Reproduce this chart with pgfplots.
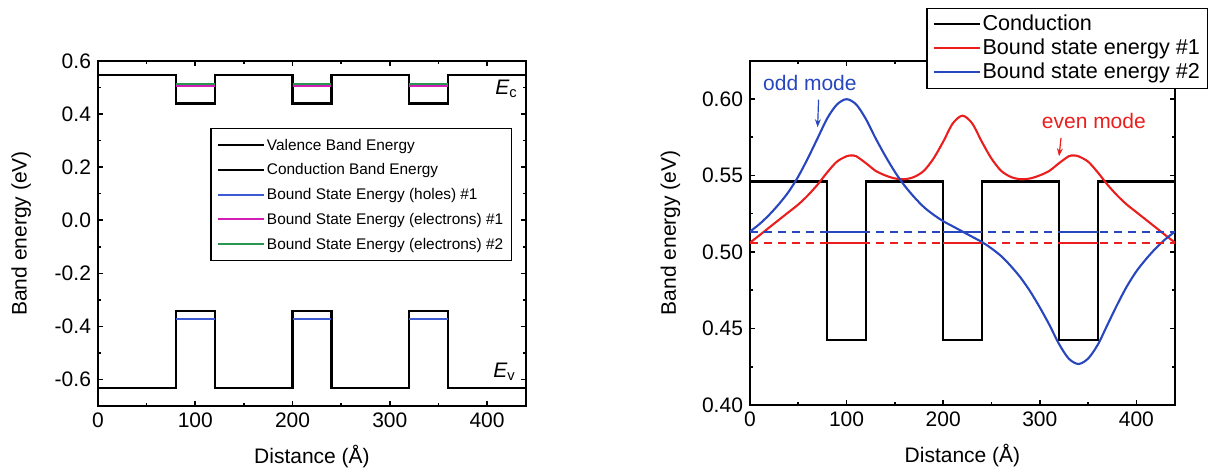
\documentclass[border=0pt]{standalone}
\usepackage{fontspec}
\setmainfont{Liberation Sans}
\usepackage{pgfplots}
\pgfplotsset{compat=1.18}
\usetikzlibrary{arrows.meta}
\definecolor{cblue}{RGB}{40,70,190}
\definecolor{cred}{RGB}{235,30,30}
\definecolor{lblue}{RGB}{60,90,210}
\definecolor{lmag}{RGB}{210,30,180}
\definecolor{lgreen}{RGB}{40,150,80}
\pgfplotsset{
  mystyle/.style={
    scale only axis,
    axis line style={line width=1pt},
    every tick/.style={line width=0.8pt, black},
    major tick length=2.5pt, minor tick length=1.5pt,
    tick align=inside,
    xmin=0, xmax=440,
    xtick={0,100,...,400}, minor x tick num=1,
    tick label style={font=\fontsize{10.5}{12}\selectfont},
    label style={font=\fontsize{10.5}{12}\selectfont},
    /pgf/number format/assume math mode=true,
    xlabel={Distance (Å)},
    ylabel={Band energy (eV)},
    xlabel shift=2pt,
    unbounded coords=jump,
    every axis plot/.append style={line width=1.05pt},
    legend cell align=left,
    legend image code/.code={\draw[##1, line width=1pt] (0pt,0pt) -- (23pt,0pt);},
  }
}
\begin{document}
\begin{tikzpicture}
\path[use as bounding box] (0,0) rectangle (606pt,238pt);
% ---------------- left axis
\begin{axis}[mystyle,
  at={(49pt,35pt)}, anchor=south west,
  width=214pt, height=172.5pt,
  ymin=-0.7, ymax=0.6,
  ylabel shift=5pt,
  ytick={-0.6,-0.4,...,0.6}, minor y tick num=1,
  yticklabel style={/pgf/number format/.cd, fixed, fixed zerofill, precision=1},
  legend style={at={(0.967,0.806)}, anchor=north east, draw=black, line width=0.6pt,
    font=\fontsize{7.7}{9.6}\selectfont, row sep=0pt,
    nodes={inner sep=1pt, text height=7.8pt, text depth=2.6pt}},
]
\addplot[black] coordinates {(0,-0.632) (80,-0.632) (80,-0.343) (120,-0.343) (120,-0.632) (200,-0.632) (200,-0.343) (240,-0.343) (240,-0.632) (320,-0.632) (320,-0.343) (360,-0.343) (360,-0.632) (440,-0.632)};
\addlegendentry{Valence Band Energy}
\addplot[black] coordinates {(0,0.546) (80,0.546) (80,0.44) (120,0.44) (120,0.546) (200,0.546) (200,0.44) (240,0.44) (240,0.546) (320,0.546) (320,0.44) (360,0.44) (360,0.546) (440,0.546)};
\addlegendentry{Conduction Band Energy}
\addplot[lblue] coordinates {(80,-0.372) (120,-0.372) (120,nan) (200,-0.372) (240,-0.372) (240,nan) (320,-0.372) (360,-0.372)};
\addlegendentry{Bound State Energy (holes) \#1}
\addplot[lmag] coordinates {(80,0.505) (120,0.505) (120,nan) (200,0.505) (240,0.505) (240,nan) (320,0.505) (360,0.505)};
\addlegendentry{Bound State Energy (electrons) \#1}
\addplot[lgreen] coordinates {(80,0.514) (120,0.514) (120,nan) (200,0.514) (240,0.514) (240,nan) (320,0.514) (360,0.514)};
\addlegendentry{Bound State Energy (electrons) \#2}
\node[font=\fontsize{10.5}{12}\selectfont, anchor=center] at (axis cs:420,0.495) {\itshape E\textsubscript{\upshape c}};
\node[font=\fontsize{10.5}{12}\selectfont, anchor=center] at (axis cs:418,-0.57) {\itshape E\textsubscript{\upshape v}};
\end{axis}
% ---------------- right axis
\begin{axis}[mystyle,
  at={(375pt,35.5pt)}, anchor=south west,
  width=212.5pt, height=172.2pt,
  ymin=0.40, ymax=0.625,
  ylabel shift=4pt,
  ytick={0.40,0.45,...,0.60}, minor y tick num=1,
  yticklabel style={/pgf/number format/.cd, fixed, fixed zerofill, precision=2},
  legend style={at={(1.078,1.153)}, anchor=north east, draw=black, line width=0.6pt,
    font=\fontsize{10.8}{12.6}\selectfont, row sep=0pt,
    nodes={inner sep=0.8pt, text height=8pt, text depth=2.4pt}},
]
\addplot[black] coordinates {(0,0.546) (80,0.546) (80,0.4425) (120,0.4425) (120,0.546) (200,0.546) (200,0.4425) (240,0.4425) (240,0.546) (320,0.546) (320,0.4425) (360,0.4425) (360,0.546) (440,0.546)};
\addlegendentry{Conduction}
\addplot[cred, smooth] coordinates {
(0,0.506) (10,0.511) (20,0.516) (30,0.521) (40,0.526) (50,0.531) (60,0.537) (70,0.544)
(80,0.552) (90,0.559) (100,0.5625) (105,0.563) (110,0.5625) (120,0.558) (130,0.553)
(140,0.550) (150,0.548) (160,0.5475) (170,0.549) (180,0.553) (190,0.561) (200,0.572)
(210,0.584) (220,0.589) (230,0.584) (240,0.572) (250,0.561) (260,0.553) (270,0.549)
(280,0.5475) (290,0.548) (300,0.550) (310,0.553) (320,0.558) (330,0.5625) (335,0.563)
(340,0.5625) (350,0.559) (360,0.552) (370,0.544) (380,0.537) (390,0.531) (400,0.526)
(410,0.521) (420,0.516) (430,0.511) (440,0.506)};
\addlegendentry{Bound state energy \#1}
\addplot[cblue, smooth] coordinates {
(0,0.5133) (10,0.5183) (20,0.5243) (30,0.5313) (40,0.5393) (50,0.5493) (60,0.5613)
(70,0.5743) (80,0.5873) (90,0.5963) (100,0.5998) (110,0.5963) (120,0.5868) (130,0.5743)
(140,0.5628) (150,0.5523) (160,0.5433) (170,0.5358) (180,0.5293) (190,0.5243)
(200,0.5201) (210,0.5167) (220,0.5133) (230,0.5099) (240,0.5065) (250,0.5023)
(260,0.4973) (270,0.4908) (280,0.4833) (290,0.4743) (300,0.4638) (310,0.4523)
(320,0.4398) (330,0.4303) (340,0.4268) (350,0.4303) (360,0.4393) (370,0.4523)
(380,0.4653) (390,0.4773) (400,0.4873) (410,0.4953) (420,0.5023) (430,0.5083) (440,0.5133)};
\addlegendentry{Bound state energy \#2}
\addplot[cblue, dash pattern=on 4pt off 3pt, forget plot] coordinates {(0,0.5133) (440,0.5133)};
\addplot[cred, dash pattern=on 4pt off 3pt, forget plot] coordinates {(0,0.506) (440,0.506)};
\addplot[cblue, forget plot] coordinates {(80,0.5133) (120,0.5133) (120,nan) (200,0.5133) (240,0.5133) (240,nan) (320,0.5133) (360,0.5133)};
\addplot[cred, forget plot] coordinates {(80,0.506) (120,0.506) (120,nan) (200,0.506) (240,0.506) (240,nan) (320,0.506) (360,0.506)};
\node[cblue, font=\fontsize{10.5}{12}\selectfont] at (axis cs:62,0.6105) {odd mode};
\draw[cblue, line width=0.6pt, -{Stealth[length=4pt,width=3pt]}] (axis cs:71,0.5995) -- (axis cs:70,0.5815);
\node[cred, font=\fontsize{10.5}{12}\selectfont] at (axis cs:356,0.5855) {even mode};
\draw[cred, line width=0.6pt, -{Stealth[length=4pt,width=3pt]}] (axis cs:322,0.5745) -- (axis cs:320,0.5625);
\end{axis}
\end{tikzpicture}
\end{document}
